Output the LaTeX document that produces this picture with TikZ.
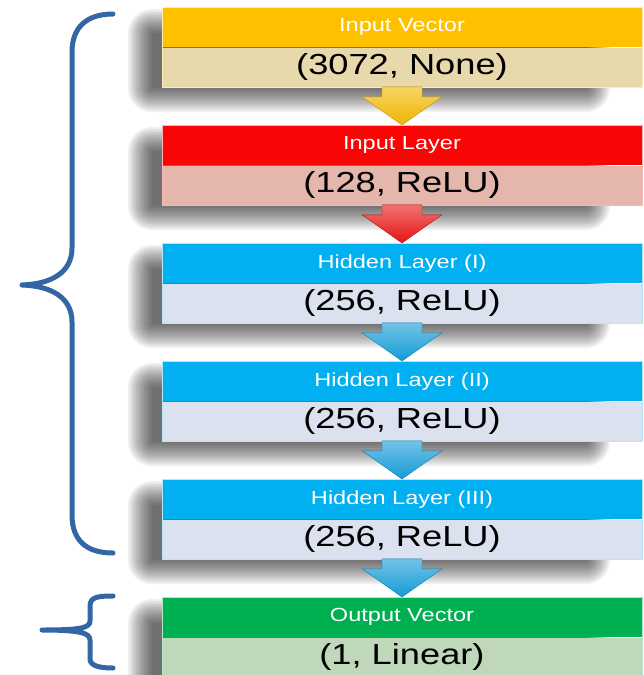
\documentclass[tikz,border=0pt]{standalone}
\usepackage{fontspec}
\setmainfont{Liberation Sans}
\usetikzlibrary{calc}
\definecolor{bracecol}{RGB}{52,101,164}
\definecolor{ambH}{RGB}{255,192,0}
\definecolor{ambV}{RGB}{232,217,172}
\definecolor{ambA}{RGB}{240,182,0}
\definecolor{redH}{RGB}{250,5,5}
\definecolor{redV}{RGB}{228,182,172}
\definecolor{redA}{RGB}{230,20,20}
\definecolor{bluH}{RGB}{0,176,240}
\definecolor{bluV}{RGB}{219,225,238}
\definecolor{bluA}{RGB}{20,155,215}
\definecolor{grnH}{RGB}{0,176,80}
\definecolor{grnV}{RGB}{192,216,186}
\newcommand{\hdrtext}[1]{\fontsize{19}{20}\selectfont\scalebox{1.24}[1]{#1}}
\newcommand{\valtext}[1]{\fontsize{29}{30}\selectfont\scalebox{1.25}[1]{#1}}
\begin{document}
\begin{tikzpicture}[x=1pt,y=-1pt,
  hdr/.style={anchor=north,minimum width=480pt,minimum height=40pt,inner sep=0pt,text=white},
  val/.style={anchor=north,minimum width=480pt,minimum height=39pt,inner sep=0pt,text=black},
  shadowlayer/.style={fill=black,fill opacity=0.06,rounded corners=#1},
  brace/.style={draw=bracecol,line width=5pt,line cap=round,line join=round},
  blockarrow/.style={draw=#1!80!black,line width=0.4pt,top color=#1!60!white,bottom color=#1}]
\useasboundingbox (0,0) rectangle (644,675);
\fill[white] (0,0) rectangle (644,675);
\newcommand{\nnlayer}[6]{%
  \foreach \r [evaluate=\r as \rc using {max(1,12+\r)}] in {-12,-10,...,12}{
    \fill[shadowlayer=\rc] ({140-\r},{#2+14-\r}) rectangle ({598+\r},{#2+93+\r});
  }
  \node[hdr,fill=#3] (h#1) at (402,#2) {\hdrtext{#5}};
  \node[val,fill=#4] (v#1) at (h#1.south) {\valtext{#6}};
  \draw[white!70!#3,line width=0.6pt] (h#1.north west) rectangle (v#1.south east);
}
\nnlayer{1}{7}{ambH}{ambV}{Input Vector}{(3072, None)}
\nnlayer{2}{125}{redH}{redV}{Input Layer}{(128, ReLU)}
\nnlayer{3}{243}{bluH}{bluV}{Hidden Layer (I)}{(256, ReLU)}
\nnlayer{4}{361}{bluH}{bluV}{Hidden Layer (II)}{(256, ReLU)}
\nnlayer{5}{479}{bluH}{bluV}{Hidden Layer (III)}{(256, ReLU)}
\nnlayer{6}{597}{grnH}{grnV}{Output Vector}{(1, Linear)}
\newcommand{\nnarrow}[3]{%
  \draw[blockarrow=#3] ($(v#1.south)+(-20,0)$) -- ($(v#1.south)+(-20,10)$) -- ($(v#1.south)+(-40,10)$)
    -- (h#2.north) -- ($(v#1.south)+(40,10)$) -- ($(v#1.south)+(20,10)$) -- ($(v#1.south)+(20,0)$) -- cycle;
}
\nnarrow{1}{2}{ambA}
\nnarrow{2}{3}{redA}
\nnarrow{3}{4}{bluA}
\nnarrow{4}{5}{bluA}
\nnarrow{5}{6}{bluA}
% braces
\draw[brace] (113,14) .. controls (86,14) and (72,28) .. (72,52) -- (72,248)
  .. controls (72,272) and (52,284) .. (22,285)
  .. controls (52,286) and (72,298) .. (72,322) -- (72,515)
  .. controls (72,540) and (86,553) .. (113,553);
\draw[brace] (113,596) .. controls (98,596) and (90,597) .. (90,606) -- (90,621)
  .. controls (90,628) and (80,630) .. (42,630)
  .. controls (80,630) and (90,633) .. (90,640) -- (90,659)
  .. controls (90,666) and (100,668) .. (113,668);
\end{tikzpicture}
\end{document}
